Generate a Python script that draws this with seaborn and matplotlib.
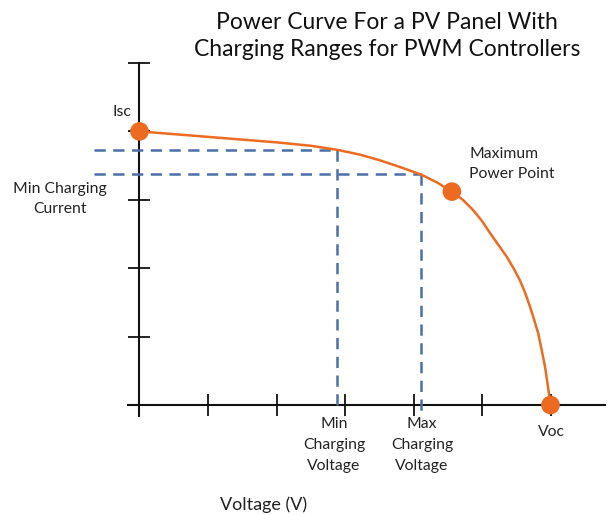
import matplotlib
matplotlib.use("Agg")
import matplotlib.pyplot as plt
import seaborn as sns
import pandas as pd

# ---- data ----
voltage = [0.0, 0.5, 1.0, 1.5, 2.0, 2.5, 2.89, 3.22, 3.5, 3.8, 4.11, 4.35, 4.56, 4.72, 4.87,
           5.0, 5.12, 5.24, 5.36, 5.46, 5.55, 5.63, 5.70, 5.76, 5.82, 5.87, 5.92, 5.96, 6.0]
current = [4.0, 3.96, 3.92, 3.88, 3.84, 3.79, 3.73, 3.66, 3.58, 3.48, 3.37, 3.25, 3.12, 3.0, 2.85,
           2.69, 2.51, 2.34, 2.17, 2.0, 1.83, 1.64, 1.44, 1.25, 1.05, 0.81, 0.56, 0.29, 0.0]
key_v = [0.0, 4.56, 6.0]          # Isc, Maximum Power Point, Voc
key_i = [4.0, 3.12, 0.0]
min_charge_v, min_charge_i = 2.89, 3.73
max_charge_v, max_charge_i = 4.11, 3.37
x_ticks = [0, 1, 2, 3, 4, 5, 6]
y_ticks = [0, 1, 2, 3, 4, 5]

ORANGE = "#ED6B21"
BLUE = "#4B6FA8"

sns.set_theme(style="white")
plt.rcParams['font.family'] = ['Lato', 'DejaVu Sans']

W, H = 608, 515
fig = plt.figure(figsize=(W / 100, H / 100), dpi=100)
ax = fig.add_axes([0, 0, 1, 1])

# map pixel layout: x px = 139.5 + 68.5*v ; y px = 405 - 68.4*i
ax.set_xlim(-139.5 / 68.5, (W - 139.5) / 68.5)
ax.set_ylim((405 - H) / 68.4, 405 / 68.4)

df = pd.DataFrame({"V": voltage, "I": current})
sns.lineplot(data=df, x="V", y="I", sort=False, color=ORANGE, lw=1.8, ax=ax, zorder=3)
sns.scatterplot(x=key_v, y=key_i, color=ORANGE, s=180, edgecolor="none", ax=ax, zorder=4)

dash = dict(color=BLUE, lw=1.8, linestyle=(0, (4.5, 3)), zorder=2)
ax.plot([-0.66, min_charge_v], [min_charge_i, min_charge_i], **dash)
ax.plot([-0.66, max_charge_v], [max_charge_i, max_charge_i], **dash)
ax.plot([min_charge_v, min_charge_v], [min_charge_i, -0.04], **dash)
ax.plot([max_charge_v, max_charge_v], [max_charge_i, -0.12], **dash)

# axes through origin with crossing ticks
for s in ["top", "right"]:
    ax.spines[s].set_visible(False)
ax.spines["left"].set_position(("data", 0))
ax.spines["bottom"].set_position(("data", 0))
ax.spines["left"].set_bounds(-0.16, 5)
ax.spines["bottom"].set_bounds(-0.17, 6.8)
for s in ["left", "bottom"]:
    ax.spines[s].set_color("#111111")
    ax.spines[s].set_linewidth(1.5)
    ax.spines[s].set_zorder(1)
ax.set_xticks(x_ticks)
ax.set_yticks(y_ticks)
ax.set_xticklabels([])
ax.set_yticklabels([])
ax.tick_params(axis="both", direction="inout", length=16.5, width=1.3, color="#111111",
               bottom=True, left=True)
ax.set_xlabel("")
ax.set_ylabel("")
ax.grid(False)


def px(x, y):
    return x / W, 1 - y / H


txt = dict(color="#222222", fontsize=11.3)
LS = 1.62
fig.text(*px(387, 36), "Power Curve For a PV Panel With\nCharging Ranges for PWM Controllers",
         ha="center", va="center", fontsize=16.5, color="#111111", linespacing=1.35)
fig.text(*px(122, 112), "Isc", ha="center", va="center", **txt)
fig.text(*px(60, 199), "Min Charging\nCurrent", ha="center", va="center", linespacing=LS, **txt)
fig.text(*px(469, 164), "Maximum\nPower Point", ha="left", va="center", linespacing=LS, **txt)
fig.text(*px(551, 432), "Voc", ha="center", va="center", **txt)
fig.text(*px(334, 445), "Min\nCharging\nVoltage", ha="center", va="center", linespacing=LS, **txt)
fig.text(*px(422, 445), "Max\nCharging\nVoltage", ha="center", va="center", linespacing=LS, **txt)
fig.text(*px(264, 505), "Voltage (V)", ha="center", va="center", color="#222222", fontsize=13)

fig.savefig("out.png", dpi=100)
